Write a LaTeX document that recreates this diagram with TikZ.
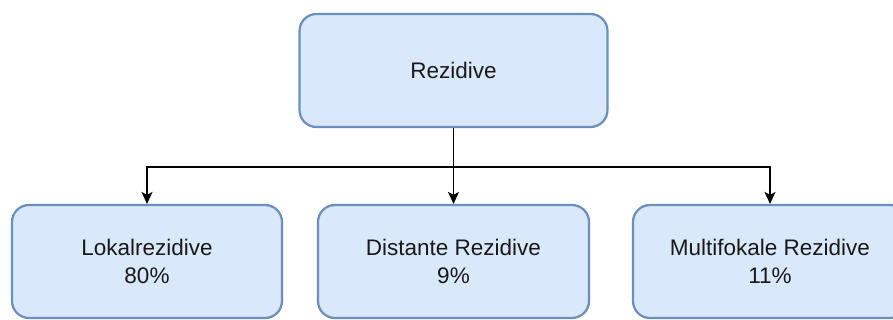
\documentclass[tikz,border=0pt]{standalone}
\usepackage{fontspec}
\setmainfont{Liberation Sans}
\usetikzlibrary{arrows.meta}
\definecolor{boxfill}{HTML}{DAE8FC}
\definecolor{boxline}{HTML}{6C8EBF}
\tikzset{
  box/.style={draw=boxline, fill=boxfill, line width=2.2pt, rounded corners=17pt,
    minimum height=113pt, align=center, inner sep=0pt,
    font=\fontsize{22.5}{28}\selectfont, text=black!90},
  conn/.style={line width=1.5pt, draw=black,
    -{Stealth[length=12pt, width=11pt, inset=3pt]}}
}
\begin{document}
\begin{tikzpicture}[x=1pt,y=-1pt]
\useasboundingbox (0,0) rectangle (893,320);
\clip (0,0) rectangle (893,320);
\fill[white] (0,0) rectangle (893,320);
\node[box, minimum width=308pt] (top) at (453.5,70.5) {Rezidive};
\node[box, minimum width=270pt] (l) at (147,261.5) {Lokalrezidive\\80\%};
\node[box, minimum width=271pt] (m) at (453.5,261.5) {Distante Rezidive\\9\%};
\node[box, minimum width=274pt] (r) at (770,261.5) {Multifokale Rezidive\\11\%};
\coordinate (j) at (453.5,167);
\draw[line width=1.5pt] (top.south) -- (j);
\draw[conn] (j) -| (l.north);
\draw[conn] (j) -- (m.north);
\draw[conn] (j) -| (r.north);
\end{tikzpicture}
\end{document}
